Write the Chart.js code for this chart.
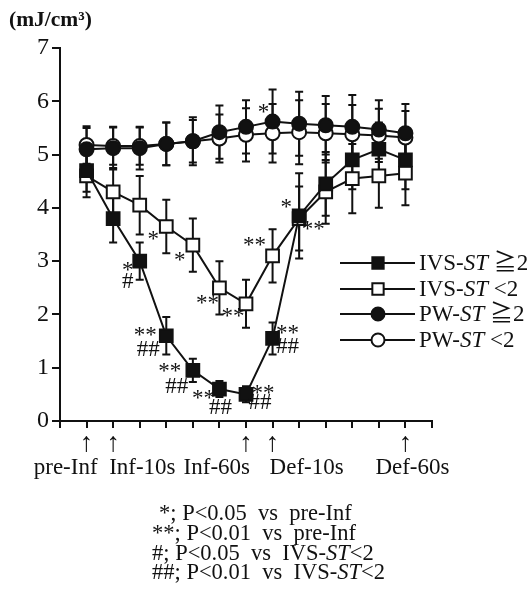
<!DOCTYPE html>
<html><head><meta charset="utf-8">
<script src="https://cdn.jsdelivr.net/npm/chart.js@4.4.0/dist/chart.umd.min.js"></script>
<style>
html,body{margin:0;padding:0;background:#fff;}
#wrap{position:relative;width:529px;height:598px;overflow:hidden;}
canvas{position:absolute;left:0;top:0;}
.t{position:absolute;font-family:"Liberation Serif","Noto Sans CJK JP",serif;color:#111;white-space:pre;line-height:20px;font-size:22.5px;}
</style></head><body>
<div id="wrap">
<canvas id="c" width="529" height="598"></canvas>
<div class="t" style="left:9px;top:9px;font-weight:bold;font-size:21.5px;">(mJ/cm³)</div>
<div class="t" style="left:159px;top:503px;">*; P&lt;0.05  vs  pre-Inf</div>
<div class="t" style="left:152px;top:523px;">**; P&lt;0.01  vs  pre-Inf</div>
<div class="t" style="left:152px;top:543px;">#; P&lt;0.05  vs  IVS-<i>ST</i>&lt;2</div>
<div class="t" style="left:152px;top:562px;">##; P&lt;0.01  vs  IVS-<i>ST</i>&lt;2</div>
</div>
<script>
// ---- data ----
const timeIndex = [0,1,2,3,4,5,6,7,8,9,10,11,12];
const labeledIdx = [0,1,6,7,12];
const labelNames = ['pre-Inf','Inf-10s','Inf-60s','Def-10s','Def-60s'];
const yTicks = [0,1,2,3,4,5,6,7];

const seriesNames = ['IVS-ST ≧2','IVS-ST <2','PW-ST ≧2','PW-ST <2'];
const ivsHigh = [4.7, 3.8, 3.0, 1.6, 0.95, 0.6, 0.5, 1.55, 3.85, 4.45, 4.9, 5.1, 4.9];
const ivsLow  = [4.6, 4.3, 4.05, 3.65, 3.3, 2.5, 2.2, 3.1, 3.8, 4.3, 4.55, 4.6, 4.65];
const pwHigh  = [5.1, 5.12, 5.12, 5.2, 5.25, 5.42, 5.52, 5.62, 5.58, 5.55, 5.52, 5.47, 5.4];
const pwLow   = [5.18, 5.16, 5.16, 5.2, 5.25, 5.3, 5.37, 5.4, 5.42, 5.4, 5.38, 5.36, 5.32];

const ivsHighErr = [0.4, 0.45, 0.35, 0.35, 0.22, 0.15, 0.15, 0.3, 0.8, 0.6, 0.55, 0.5, 0.55];
const ivsLowErr  = [0.4, 0.45, 0.55, 0.5, 0.5, 0.5, 0.45, 0.5, 0.6, 0.6, 0.65, 0.6, 0.6];
const pwHighErr  = [0.4, 0.4, 0.4, 0.4, 0.45, 0.5, 0.5, 0.6, 0.6, 0.55, 0.6, 0.55, 0.55];
const pwLowErr   = [0.35, 0.35, 0.35, 0.4, 0.4, 0.45, 0.5, 0.55, 0.6, 0.55, 0.55, 0.5, 0.5];

// significance marks: [series, point index, text]
const marks = [
 [1,3,'*'],[1,4,'*'],[1,5,'**'],[1,6,'**'],[1,7,'**'],[1,8,'**'],
 [0,2,'*'],[0,2,'#'],[0,3,'**'],[0,3,'##'],[0,4,'**'],[0,4,'##'],
 [0,5,'**'],[0,5,'##'],[0,6,'**'],[0,6,'##'],[0,7,'**'],[0,7,'##'],
 [0,8,'*'],[2,7,'*']
];

// ---- style ----
const markOffsets = [
 [-13,9],[-13,12],[-12,12],[-13,9],[-18,-14],[14,7],
 [-12,6],[-12,21],[-21,-4],[-18,14],[-23,-2],[-16,17],
 [-16,6],[1,19],[17,-4],[14,9],[15,-8],[15,9],
 [-13,-12],[-9,-13]
];
const labelAlign = [['right',11],['left',-4],['right',4],['left',-3],['center',7]];
const ink = '#111';
const serif = '"Liberation Serif","Noto Sans CJK JP",serif';
const errorSets = [ivsHighErr, ivsLowErr, pwHighErr, pwLowErr];
const pointShapes = [['rect',9,true],['rect',9,false],['circle',7,true],['circle',7,false]];
const legendRows = [263,289,314,340];

const seriesValues = [ivsHigh, ivsLow, pwHigh, pwLow];
const datasets = seriesValues.map((vals,di)=>({
  label: seriesNames[di],
  data: timeIndex.map((t,i)=>({x:t,y:vals[i]})),
  borderColor: ink, borderWidth: 2,
  pointStyle: pointShapes[di][0], pointRadius: pointShapes[di][1], pointHoverRadius: pointShapes[di][1],
  pointBackgroundColor: pointShapes[di][2] ? ink : '#fff',
  pointBorderColor: ink, pointBorderWidth: 2,
  tension: 0, fill: false
}));

function drawMarker(ctx, shape, r, filled, x, y){
  ctx.beginPath();
  if(shape==='rect'){ const s=r*Math.SQRT1_2; ctx.rect(x-s,y-s,2*s,2*s); }
  else ctx.arc(x,y,r,0,Math.PI*2);
  ctx.fillStyle = filled?ink:'#fff'; ctx.fill();
  ctx.lineWidth=2; ctx.strokeStyle=ink; ctx.stroke();
}

const extras = {
  id:'extras',
  beforeDatasetsDraw(chart){
    const ctx=chart.ctx, xs=chart.scales.x, ys=chart.scales.y;
    ctx.save(); ctx.strokeStyle=ink; ctx.lineWidth=2;
    seriesValues.forEach((vals,di)=>{
      vals.forEach((v,i)=>{
        const e=errorSets[di][i];
        const x=xs.getPixelForValue(timeIndex[i]);
        const yt=ys.getPixelForValue(v+e), yb=ys.getPixelForValue(v-e);
        ctx.beginPath();
        ctx.moveTo(x,yt); ctx.lineTo(x,yb);
        ctx.moveTo(x-4,yt); ctx.lineTo(x+4,yt);
        ctx.moveTo(x-4,yb); ctx.lineTo(x+4,yb);
        ctx.stroke();
      });
    });
    ctx.restore();
  },
  afterDatasetsDraw(chart){
    const ctx=chart.ctx, xs=chart.scales.x, ys=chart.scales.y;
    ctx.save();
    ctx.fillStyle=ink; ctx.textAlign='center'; ctx.textBaseline='middle';
    ctx.font='23px '+serif;
    marks.forEach((m,k)=>{
      const [di,i,txt]=m;
      const x=xs.getPixelForValue(timeIndex[i])+markOffsets[k][0];
      const y=ys.getPixelForValue(seriesValues[di][i])+markOffsets[k][1]+(txt[0]==='*'?4:0);
      ctx.fillText(txt,x,y);
    });
    // x labels with arrows
    labeledIdx.forEach((idx,k)=>{
      const x=xs.getPixelForValue(idx);
      ctx.textAlign='center'; ctx.textBaseline='middle';
      ctx.font='27px '+serif;
      ctx.fillText('↑',x,444);
      ctx.font='23px '+serif;
      ctx.textAlign=labelAlign[k][0];
      ctx.fillText(labelNames[k],x+labelAlign[k][1],468);
    });
    // legend
    seriesNames.forEach((name,di)=>{
      const y=legendRows[di];
      ctx.beginPath(); ctx.moveTo(340,y); ctx.lineTo(415,y); ctx.lineWidth=2; ctx.strokeStyle=ink; ctx.stroke();
      drawMarker(ctx, pointShapes[di][0], pointShapes[di][0]==='rect'?8:6.5, pointShapes[di][2], 378, y);
      const parts = name.split('-');
      const pre = parts[0]+'-';
      const rest = parts[1];
      const st = rest.slice(0,2), tail = rest.slice(2);
      let x=419;
      ctx.fillStyle=ink; ctx.textAlign='left'; ctx.textBaseline='middle';
      ctx.font='23px '+serif; ctx.fillText(pre,x,y+1); x+=ctx.measureText(pre).width;
      ctx.font='italic 23px '+serif; ctx.fillText(st,x,y+1); x+=ctx.measureText(st).width;
      ctx.font='23px '+serif; ctx.fillText(tail,x,y+1);
    });
    ctx.restore();
  }
};

new Chart(document.getElementById('c'), {
  type:'line',
  data:{datasets},
  options:{
    responsive:false, animation:false,
    layout:{padding:{left:0,top:48,right:97,bottom:0}},
    plugins:{legend:{display:false},tooltip:{enabled:false}},
    scales:{
      x:{type:'linear',min:-1,max:13,
         ticks:{stepSize:1,autoSkip:false,callback:()=>'' ,font:{size:2}},
         grid:{drawOnChartArea:false,drawTicks:true,tickLength:7,color:ink,lineWidth:2},
         border:{display:true,color:ink,width:2},
         afterFit(s){s.height=177;}},
      y:{type:'linear',min:0,max:7,
         afterBuildTicks(s){s.ticks=yTicks.map(v=>({value:v}));},
         ticks:{color:ink,padding:3,font:{family:serif,size:24},callback:v=>String(v)},
         grid:{drawOnChartArea:false,drawTicks:true,tickLength:8,color:ink,lineWidth:2},
         border:{display:true,color:ink,width:2},
         afterFit(s){s.width=60;}}
    }
  },
  plugins:[extras]
});
</script>
</body></html>
